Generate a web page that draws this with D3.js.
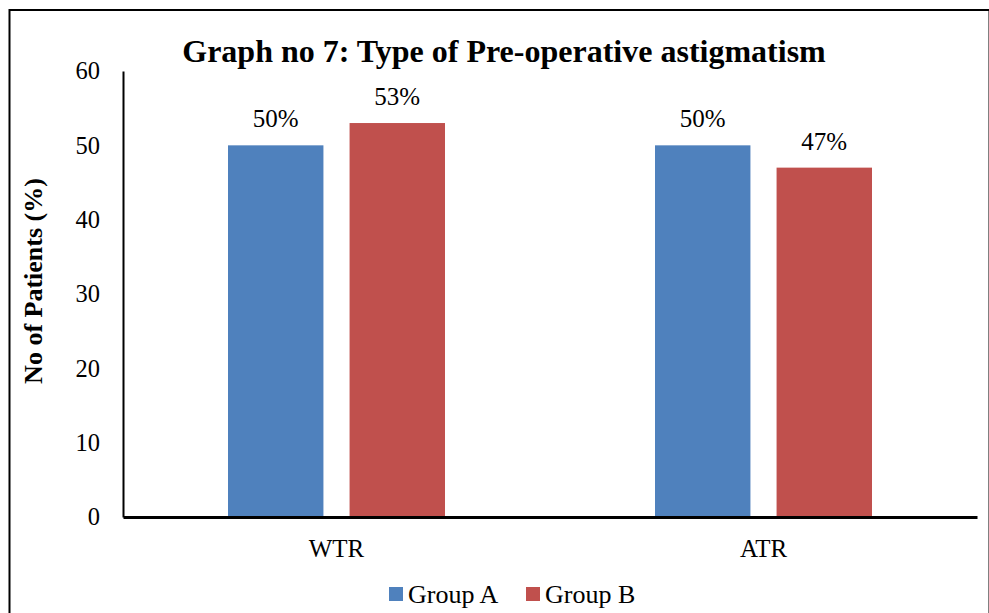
<!DOCTYPE html>
<html><head><meta charset="utf-8">
<script src="https://cdn.jsdelivr.net/npm/d3@7"></script>
<style>body{margin:0;background:#fff}svg{display:block}svg text{font-family:"Liberation Serif","Times New Roman",serif;fill:#000}</style>
</head><body>
<script>
const categories = ["WTR", "ATR"];
const groups = ["Group A", "Group B"];
const groupA = [50, 50];
const groupB = [53, 47];
const yTicks = [0, 10, 20, 30, 40, 50, 60];
const colors = ["#4f81bd", "#c0504d"];
const title = "Graph no 7: Type of Pre-operative astigmatism";
const yTitle = "No of Patients (%)";

const W = 989, H = 613;
const FF = "Liberation Serif, Times New Roman, serif";
const svg = d3.select("body").append("svg").attr("width", W).attr("height", H);
svg.append("rect").attr("x", 9.5).attr("y", 10).attr("width", 980).attr("height", 620)
  .attr("fill", "none").attr("stroke", "#000").attr("stroke-width", 2);

const m = {l: 123, r: 977, t: 71, b: 517};
const x0 = d3.scaleBand().domain(categories).range([m.l, m.r]).padding(0);
const bw = x0.bandwidth();
const x1 = d3.scaleBand().domain(groups).range([bw/2 - 108.5, bw/2 + 108.5]).paddingInner(0.215);
const y = d3.scaleLinear().domain([0, 60]).range([m.b, m.t]);

const data = categories.map((c, i) => ({cat: c, vals: [groupA[i], groupB[i]]}));

const g = svg.append("g");
data.forEach(d => {
  d.vals.forEach((v, j) => {
    const gx = x0(d.cat) + x1(groups[j]);
    g.append("rect").attr("x", gx).attr("y", y(v)).attr("width", x1.bandwidth())
      .attr("height", y(0) - y(v)).attr("fill", colors[j]);
    g.append("text").attr("x", gx + x1.bandwidth()/2).attr("y", y(v) - 18)
      .attr("text-anchor", "middle").attr("font-size", 25).attr("font-family", FF).text(v + "%");
  });
});

// y axis
const ya = svg.append("g").attr("transform", `translate(${m.l},0)`)
  .call(d3.axisLeft(y).tickValues(yTicks).tickSize(0).tickPadding(23));
ya.select(".domain").attr("stroke", "#000").attr("stroke-width", 2);
ya.selectAll("text").attr("font-size", 24.5).attr("font-family", FF).attr("fill", "#000");

// x axis
const xa = svg.append("g").attr("transform", `translate(0,${m.b})`)
  .call(d3.axisBottom(x0).tickSize(0).tickPadding(22));
xa.select(".domain").attr("stroke", "#000").attr("stroke-width", 3);
xa.selectAll("text").attr("font-size", 25).attr("font-family", FF).attr("fill", "#000");

svg.append("text").attr("x", 504).attr("y", 62).attr("text-anchor", "middle")
  .attr("font-size", 32).attr("font-weight", "bold").attr("font-family", FF).text(title);

svg.append("text").attr("transform", "translate(42,281) rotate(-90)").attr("text-anchor", "middle")
  .attr("font-size", 26).attr("font-weight", "bold").attr("font-family", FF).text(yTitle);

// legend
const lg = svg.append("g");
const lx = [389, 526];
groups.forEach((gname, j) => {
  lg.append("rect").attr("x", lx[j]).attr("y", 587).attr("width", 14).attr("height", 14).attr("fill", colors[j]);
  lg.append("text").attr("x", lx[j] + 19).attr("y", 603).attr("font-size", 26).attr("font-family", FF).text(gname);
});
</script>
</body></html>
